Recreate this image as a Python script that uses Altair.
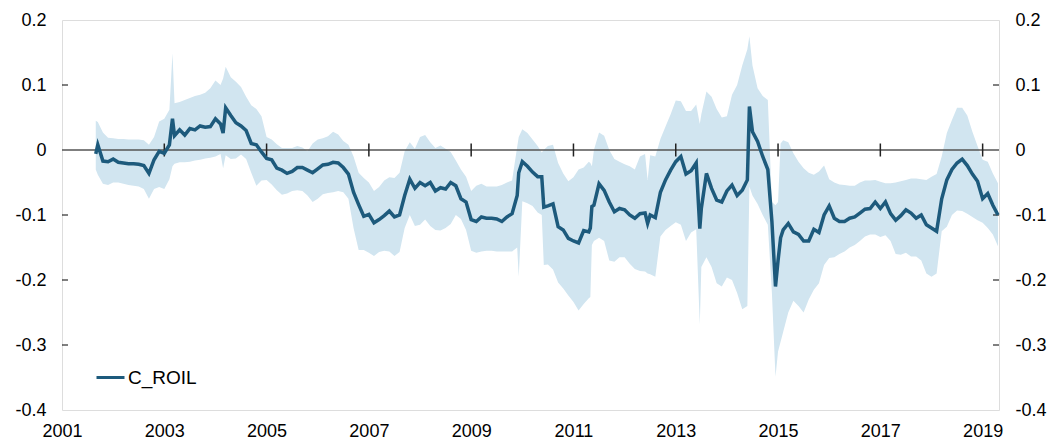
import altair as alt
import pandas as pd

# ---- data (decimal years) ----
dates = [
    2001.66, 2001.7, 2001.8, 2001.9,
    2002.0, 2002.1, 2002.2, 2002.3, 2002.4, 2002.5, 2002.6, 2002.7, 2002.8, 2002.9,
    2003.0, 2003.1, 2003.16, 2003.2, 2003.3, 2003.4, 2003.5, 2003.6, 2003.7, 2003.8, 2003.9,
    2004.0, 2004.1, 2004.15, 2004.2, 2004.3, 2004.4, 2004.5, 2004.6, 2004.7, 2004.8, 2004.9,
    2005.0, 2005.1, 2005.2, 2005.3, 2005.4, 2005.5, 2005.6, 2005.7, 2005.8, 2005.9,
    2006.0, 2006.1, 2006.2, 2006.3, 2006.4, 2006.5, 2006.6, 2006.7, 2006.8, 2006.9,
    2007.0, 2007.1, 2007.2, 2007.3, 2007.4, 2007.5, 2007.6, 2007.7, 2007.8, 2007.9,
    2008.0, 2008.1, 2008.2, 2008.3, 2008.4, 2008.5, 2008.6, 2008.7, 2008.8, 2008.9,
    2009.0, 2009.1, 2009.2, 2009.3, 2009.4, 2009.5, 2009.6, 2009.7, 2009.8, 2009.9, 2009.93,
    2010.0, 2010.1, 2010.2, 2010.3, 2010.38, 2010.42, 2010.5, 2010.6, 2010.7, 2010.8, 2010.9,
    2011.0, 2011.1, 2011.2, 2011.3, 2011.33, 2011.36, 2011.4, 2011.5, 2011.6, 2011.7, 2011.8, 2011.9,
    2012.0, 2012.1, 2012.2, 2012.3, 2012.4, 2012.45, 2012.5, 2012.6, 2012.7, 2012.8, 2012.9,
    2013.0, 2013.1, 2013.2, 2013.3, 2013.4, 2013.47, 2013.5, 2013.6, 2013.7, 2013.8, 2013.9,
    2014.0, 2014.1, 2014.2, 2014.3, 2014.4, 2014.44, 2014.5, 2014.6, 2014.7, 2014.8, 2014.88, 2014.95,
    2015.0, 2015.05, 2015.1, 2015.2, 2015.3, 2015.4, 2015.5, 2015.6, 2015.7, 2015.8, 2015.9,
    2016.0, 2016.1, 2016.2, 2016.3, 2016.4, 2016.5, 2016.6, 2016.7, 2016.8, 2016.9,
    2017.0, 2017.1, 2017.2, 2017.3, 2017.4, 2017.5, 2017.6, 2017.7, 2017.8, 2017.9,
    2018.0, 2018.1, 2018.2, 2018.3, 2018.4, 2018.5, 2018.6, 2018.7, 2018.8, 2018.9,
    2019.0, 2019.1, 2019.2, 2019.3,
]

c_roil = [
    -0.006, 0.008, -0.017, -0.018,
    -0.014, -0.019, -0.020, -0.021, -0.021, -0.022, -0.024, -0.036, -0.015, -0.002,
    -0.005, 0.008, 0.048, 0.022, 0.031, 0.023, 0.033, 0.031, 0.037, 0.035, 0.036,
    0.048, 0.040, 0.026, 0.065, 0.053, 0.042, 0.037, 0.030, 0.010, 0.008, -0.003,
    -0.013, -0.015, -0.028, -0.031, -0.036, -0.033, -0.027, -0.027, -0.031, -0.035,
    -0.029, -0.023, -0.022, -0.019, -0.020, -0.027, -0.037, -0.065, -0.084, -0.102,
    -0.099, -0.112, -0.107, -0.101, -0.094, -0.103, -0.100, -0.070, -0.045, -0.059,
    -0.050, -0.055, -0.050, -0.063, -0.058, -0.060, -0.050, -0.055, -0.075, -0.080,
    -0.107, -0.110, -0.103, -0.105, -0.105, -0.106, -0.110, -0.103, -0.098, -0.070, -0.035,
    -0.018, -0.025, -0.034, -0.041, -0.041, -0.088, -0.086, -0.083, -0.118, -0.123, -0.136,
    -0.140, -0.143, -0.124, -0.126, -0.120, -0.087, -0.085, -0.052, -0.062, -0.080, -0.095, -0.090,
    -0.092, -0.100, -0.105, -0.098, -0.097, -0.113, -0.100, -0.104, -0.065, -0.046, -0.031,
    -0.018, -0.010, -0.037, -0.032, -0.020, -0.121, -0.090, -0.036, -0.059, -0.077, -0.080,
    -0.063, -0.054, -0.070, -0.062, -0.046, 0.067, 0.028, 0.013, -0.010, -0.030, -0.110, -0.210,
    -0.170, -0.135, -0.123, -0.113, -0.126, -0.130, -0.140, -0.140, -0.122, -0.127, -0.100,
    -0.086, -0.105, -0.110, -0.110, -0.105, -0.103, -0.097, -0.091, -0.090, -0.080,
    -0.090, -0.080, -0.098, -0.108, -0.101, -0.092, -0.097, -0.105, -0.100, -0.115,
    -0.120, -0.125, -0.075, -0.046, -0.030, -0.020, -0.014, -0.024, -0.037, -0.048,
    -0.075, -0.067, -0.085, -0.100,
]

band_upper = [
    0.045, 0.043, 0.027, 0.019,
    0.018, 0.017, 0.017, 0.016, 0.016, 0.016, 0.015, 0.008, 0.020, 0.044,
    0.048, 0.062, 0.149, 0.072, 0.074, 0.077, 0.080, 0.083, 0.085, 0.088, 0.095,
    0.107, 0.100, 0.110, 0.128, 0.112, 0.105, 0.097, 0.082, 0.069, 0.063, 0.052,
    0.020, 0.016, 0.009, 0.003, 0.003, 0.003, 0.006, 0.004, -0.002, 0.010,
    0.016, 0.018, 0.021, 0.028, 0.024, 0.014, 0.008, -0.010, -0.035, -0.043,
    -0.050, -0.063, -0.057, -0.047, -0.042, -0.043, -0.035, -0.002, 0.012, 0.002,
    0.020, 0.023, 0.012, 0.003, 0.007, 0.002, -0.003, -0.016, -0.030, -0.041,
    -0.063, -0.055, -0.052, -0.056, -0.056, -0.056, -0.054, -0.050, -0.047, 0.005, 0.020,
    0.032, 0.026, 0.016, 0.006, -0.004, 0.000, 0.006, 0.008, -0.020, -0.036, -0.048,
    -0.042, -0.030, -0.027, -0.018, -0.020, -0.025, 0.000, 0.027, 0.022, 0.000, -0.014, -0.018,
    -0.022, -0.025, -0.030, -0.010, -0.006, -0.046, -0.008, -0.010, 0.017, 0.036, 0.055,
    0.076, 0.075, 0.060, 0.060, 0.070, 0.040, 0.055, 0.090, 0.082, 0.063, 0.050,
    0.052, 0.085, 0.100, 0.130, 0.155, 0.175, 0.130, 0.095, 0.083, 0.077, -0.080, -0.085,
    -0.080, 0.010, 0.015, 0.012, -0.005, -0.018, -0.028, -0.035, -0.038, -0.033, -0.024,
    -0.045, -0.050, -0.053, -0.054, -0.055, -0.055, -0.050, -0.047, -0.047, -0.046,
    -0.049, -0.051, -0.051, -0.050, -0.048, -0.046, -0.044, -0.044, -0.045, -0.046,
    -0.041, -0.037, -0.010, 0.026, 0.046, 0.065, 0.065, 0.053, 0.028, 0.006,
    -0.015, -0.018, -0.036, -0.051,
]

band_lower = [
    -0.030, -0.038, -0.052, -0.054,
    -0.050, -0.050, -0.052, -0.054, -0.055, -0.056, -0.060, -0.075, -0.060, -0.057,
    -0.060, -0.045, -0.025, -0.021, -0.019, -0.019, -0.018, -0.016, -0.015, -0.013, -0.012,
    -0.010, -0.006, -0.028, -0.008, -0.014, -0.013, -0.007, -0.014, -0.035, -0.055, -0.047,
    -0.046, -0.053, -0.062, -0.069, -0.067, -0.063, -0.062, -0.063, -0.070, -0.080,
    -0.075, -0.068, -0.066, -0.065, -0.063, -0.065, -0.075, -0.120, -0.154, -0.154,
    -0.158, -0.163, -0.157, -0.155, -0.156, -0.163, -0.157, -0.120, -0.100, -0.117,
    -0.115, -0.107, -0.117, -0.123, -0.124, -0.120, -0.114, -0.100, -0.106, -0.123,
    -0.155, -0.158, -0.156, -0.155, -0.155, -0.156, -0.156, -0.156, -0.156, -0.150, -0.195,
    -0.079, -0.082, -0.086, -0.096, -0.100, -0.177, -0.176, -0.184, -0.204, -0.213, -0.224,
    -0.234, -0.247, -0.237, -0.228, -0.226, -0.146, -0.140, -0.135, -0.140, -0.170, -0.172, -0.165,
    -0.165, -0.175, -0.183, -0.186, -0.187, -0.190, -0.191, -0.195, -0.133, -0.123, -0.117,
    -0.111, -0.115, -0.140, -0.127, -0.122, -0.269, -0.180, -0.165, -0.180, -0.205, -0.210,
    -0.196, -0.200, -0.220, -0.245, -0.240, -0.056, -0.070, -0.083, -0.100, -0.115, -0.220, -0.349,
    -0.310, -0.295, -0.280, -0.250, -0.232, -0.240, -0.250, -0.230, -0.215, -0.205, -0.177,
    -0.166, -0.165, -0.160, -0.156, -0.150, -0.146, -0.140, -0.133, -0.130, -0.130,
    -0.134, -0.131, -0.140, -0.160, -0.161, -0.158, -0.164, -0.164, -0.170, -0.190,
    -0.195, -0.190, -0.125, -0.118, -0.100, -0.093, -0.094, -0.098, -0.103, -0.108,
    -0.112, -0.120, -0.130, -0.148,
]

series_name = "C_ROIL"
year_labels = [2001, 2003, 2005, 2007, 2009, 2011, 2013, 2015, 2017, 2019]
zero_line_ticks = [2003, 2005, 2007, 2009, 2011, 2013, 2015, 2017, 2019]
y_labels = [0.2, 0.1, 0.0, -0.1, -0.2, -0.3, -0.4]
y_inner_ticks = [0.1, -0.1, -0.2, -0.3]

assert len(dates) == len(c_roil) == len(band_upper) == len(band_lower)

df = pd.DataFrame({
    "date": dates,
    "value": c_roil,
    "upper": band_upper,
    "lower": band_lower,
    "series": series_name,
})
df_zero = pd.DataFrame({"v": [0.0]})
df_xticks = pd.DataFrame({"year": zero_line_ticks})
df_yticks = pd.DataFrame({"v": y_inner_ticks})

FONT = "Liberation Sans"
W, H = 937, 390
LINE_COLOR = "#1d5a7c"
BAND_COLOR = "#d1e5f0"

xscale = alt.Scale(domain=[2001, 2019.32], nice=False, zero=False)
yscale = alt.Scale(domain=[-0.4, 0.2], nice=False, zero=False)

label_expr = ("datum.value == 0 ? '0' : (datum.value < 0 ? '-' + format(-datum.value, '.1f') "
              ": format(datum.value, '.1f'))")

def y_axis(orient):
    return alt.Axis(orient=orient, values=y_labels, labelExpr=label_expr, title=None,
                    ticks=False, domain=False, grid=False, labelPadding=16,
                    labelFont=FONT, labelFontSize=18, labelColor="black")

x_axis = alt.Axis(values=year_labels, format="d", title=None, ticks=False, domain=False,
                  grid=False, labelFlush=False, labelPadding=12, labelFont=FONT,
                  labelFontSize=18, labelColor="black")

band = alt.Chart(df).mark_area(color=BAND_COLOR, opacity=1).encode(
    x=alt.X("date:Q", scale=xscale, axis=x_axis),
    y=alt.Y("lower:Q", scale=yscale, axis=y_axis("left")),
    y2="upper:Q",
)

zero = alt.Chart(df_zero).mark_rule(color="#555555", strokeWidth=1.5).encode(
    y=alt.Y("v:Q", scale=yscale, axis=None),
)

xticks = alt.Chart(df_xticks).mark_rule(color="#222222", strokeWidth=1.5).encode(
    x=alt.X("year:Q", scale=xscale),
    y=alt.YDatum(0.01, scale=yscale, axis=None),
    y2=alt.Y2Datum(-0.01),
)

lticks = alt.Chart(df_yticks).mark_rule(color="black", strokeWidth=1).encode(
    y=alt.Y("v:Q", scale=yscale, axis=None),
    x=alt.value(0), x2=alt.value(6),
)
rticks = alt.Chart(df_yticks).mark_rule(color="black", strokeWidth=1).encode(
    y=alt.Y("v:Q", scale=yscale, axis=None),
    x=alt.value(W - 6), x2=alt.value(W),
)

line = alt.Chart(df).mark_line(strokeWidth=3.5).encode(
    x=alt.X("date:Q", scale=xscale),
    y=alt.Y("value:Q", scale=yscale, axis=y_axis("right")),
    color=alt.Color(
        "series:N",
        scale=alt.Scale(domain=[series_name], range=[LINE_COLOR]),
        legend=alt.Legend(
            title=None, orient="none", legendX=33, legendY=342,
            symbolType="stroke", symbolSize=784, symbolStrokeWidth=3,
            labelFont=FONT, labelFontSize=19, labelColor="black",
            labelOffset=2, padding=0,
        ),
    ),
)

chart = alt.layer(band, zero, xticks, lticks, rticks, line).resolve_axis(
    y="independent"
).properties(
    width=W, height=H,
    autosize=alt.AutoSizeParams(type="none"),
    padding={"left": 54, "top": 12, "right": 55, "bottom": 36},
).configure_view(stroke="black", strokeWidth=1).configure(background="white")

chart.save("out.html", embed_options={"renderer": "svg", "actions": False})
